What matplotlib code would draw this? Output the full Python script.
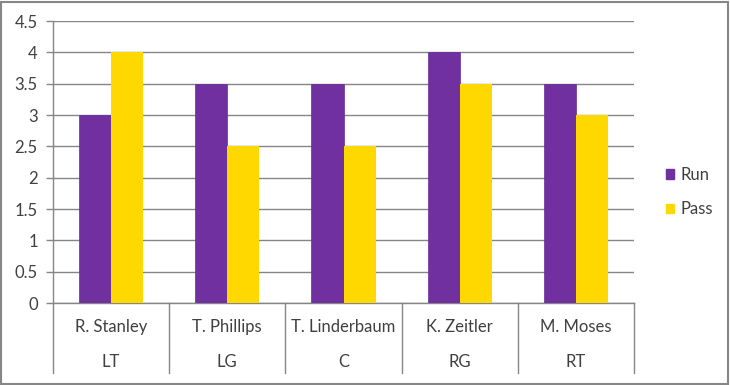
import numpy as np
import matplotlib.pyplot as plt
from matplotlib.patches import Rectangle, Patch

players = ['R. Stanley', 'T. Phillips', 'T. Linderbaum', 'K. Zeitler', 'M. Moses']
positions = ['LT', 'LG', 'C', 'RG', 'RT']
run = [3, 3.5, 3.5, 4, 3.5]
pass_ = [4, 2.5, 2.5, 3.5, 3]
yticks = [0, 0.5, 1, 1.5, 2, 2.5, 3, 3.5, 4, 4.5]

plt.rcParams['font.family'] = ['Lato', 'DejaVu Sans']
grey = '#868686'
purple = '#7030A0'
gold = '#FFD800'
fs = 12

fig = plt.figure(figsize=(7.3, 3.85), dpi=100)
ax = fig.add_axes([53 / 730, 1 - 303 / 385, 581 / 730, 282 / 385])

x = np.arange(len(players))
w = 0.276
ax.bar(x - w / 2, run, w, color=purple, edgecolor='#6a2c98', linewidth=0.5, label='Run', zorder=3)
ax.bar(x + w / 2, pass_, w, color=gold, label='Pass', zorder=3)

ax.set_xlim(-0.5, len(players) - 0.5)
ax.set_ylim(0, 4.5)
ax.set_yticks(yticks)
ax.set_yticklabels([('%g' % v) for v in yticks], fontsize=fs, color='#404040')
ax.tick_params(axis='y', length=5, color=grey, width=1, pad=6)
ax.set_xticks([])
ax.yaxis.grid(True, color=grey, linewidth=1)
ax.set_axisbelow(True)
for s in ['top', 'right']:
    ax.spines[s].set_visible(False)
for s in ['left', 'bottom']:
    ax.spines[s].set_color(grey)
    ax.spines[s].set_linewidth(1)

# multi-level category axis
tr = ax.get_xaxis_transform()
for b in np.arange(len(players) + 1) - 0.5:
    ax.plot([b, b], [0, -0.248], transform=tr, color=grey, linewidth=1, clip_on=False)
for i in range(len(players)):
    ax.text(x[i], -0.085, players[i], transform=tr, ha='center', va='center', fontsize=fs, color='#404040')
    ax.text(x[i], -0.209, positions[i], transform=tr, ha='center', va='center', fontsize=fs, color='#404040')

handles = [Patch(color=purple), Patch(color=gold)]
fig.legend(handles, ['Run', 'Pass'], loc='center left', bbox_to_anchor=(651 / 730, 1 - 192 / 385),
           frameon=False, fontsize=fs, handlelength=0.5, handleheight=0.5, handletextpad=0.4,
           labelspacing=1.1, labelcolor='#404040')

fig.patches.append(Rectangle((0.002, 0.003), 0.995, 0.993, transform=fig.transFigure,
                             fill=False, edgecolor=grey, linewidth=1.5))

fig.savefig('out.png', dpi=100)
